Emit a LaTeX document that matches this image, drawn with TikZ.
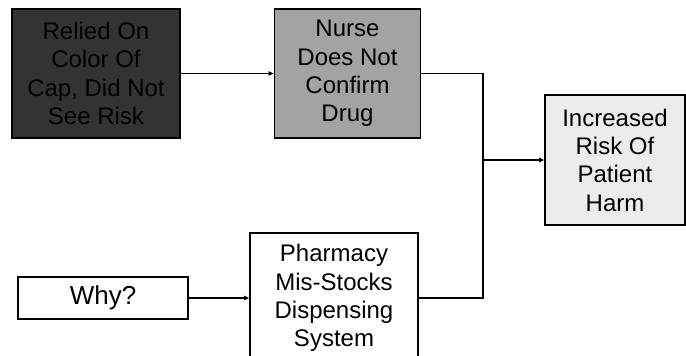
\documentclass[tikz,border=0pt]{standalone}
\usepackage{fontspec}
\setmainfont{Liberation Sans}
\usetikzlibrary{arrows.meta}
\definecolor{capdark}{RGB}{51,51,51}
\definecolor{nursegray}{RGB}{163,163,163}
\definecolor{harmlight}{RGB}{236,236,236}
\tikzset{
  causebox/.style={draw=black, line width=1.8pt, inner sep=0pt, align=center,
    font=\fontsize{24}{28.3}\selectfont},
  link/.style={line width=1.1pt},
  arrowlink/.style={link, -{Triangle[length=5pt,width=4.5pt]}},
}
\begin{document}
\begin{tikzpicture}[x=1pt,y=-1pt]
  \path[use as bounding box, clip] (0,0) rectangle (686,356);
  \fill[white] (0,0) rectangle (686,356);

  % cause chain boxes
  \node[causebox, fill=capdark, minimum width=168pt, minimum height=129pt]
    (cap) at (96,73.5) {Relied On\\Color Of\\Cap, Did Not\\See Risk};
  \node[causebox, fill=nursegray, minimum width=146pt, minimum height=129pt]
    (nurse) at (347.5,73.5) {Nurse\\Does Not\\Confirm\\Drug};
  \node[causebox, fill=harmlight, minimum width=140pt, minimum height=130pt]
    (harm) at (615,160) {Increased\\Risk Of\\Patient\\Harm};
  \node[causebox, fill=white, minimum width=170pt, minimum height=42pt,
    font=\fontsize{26}{30}\selectfont]
    (why) at (103,298) {Why?};
  \node[causebox, fill=white, minimum width=168pt, minimum height=130pt]
    (pharm) at (334,298) {Pharmacy\\Mis-Stocks\\Dispensing\\System};

  % connectors
  \coordinate (join) at (483,160);
  \draw[arrowlink] (cap.east) -- (nurse.west);
  \draw[link] (nurse.east) -| (join) |- (pharm.east);
  \draw[arrowlink] (join) -- (harm.west);
  \draw[arrowlink] (why.east) -- (pharm.west);
\end{tikzpicture}
\end{document}
